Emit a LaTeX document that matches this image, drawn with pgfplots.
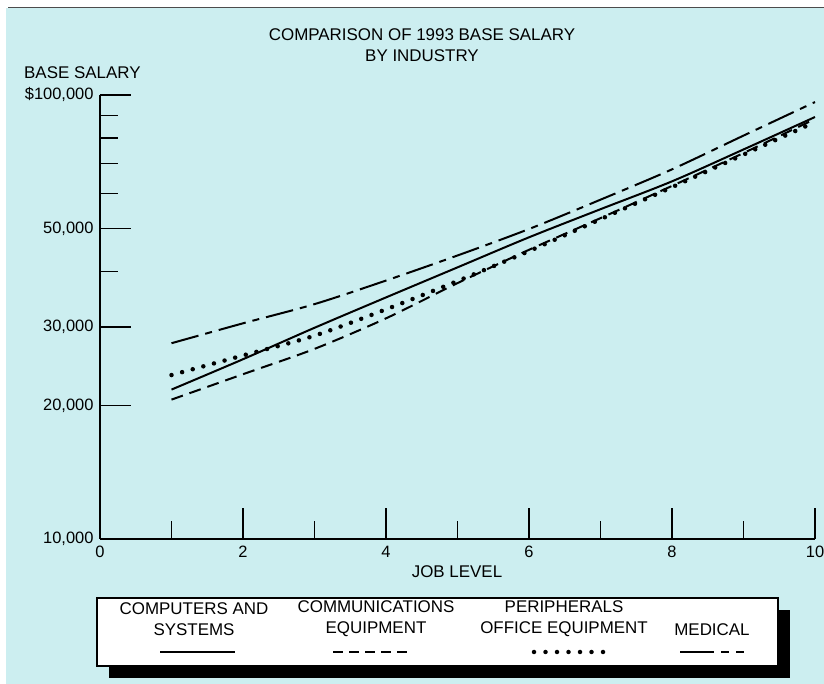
\documentclass[border=0pt]{standalone}
\usepackage{pgfplots}
\pgfplotsset{compat=1.18}
\usepackage{fontspec}
\setmainfont{Liberation Sans}
\definecolor{bgc}{RGB}{204,238,240}
\newcommand\fs{\fontsize{17}{21}\selectfont}
\begin{document}
\begin{tikzpicture}[x=1bp,y=1bp]
\fill[white] (0,0) rectangle (824,684);
\fill[bgc] (6,0) rectangle (824,676);
\draw[black!70, line width=1.5bp] (8,676.5) -- (824,676.5);
\begin{axis}[
  at={(100bp,145bp)}, anchor=south west,
  scale only axis, width=715bp, height=444bp,
  xmin=0, xmax=10, ymin=10000, ymax=100000,
  ymode=log,
  axis lines=left, axis line style={-, line width=1.4bp},
  xtick={0,2,4,6,8,10}, xticklabels={0,2,4,6,8,10},
  minor xtick={1,3,5,7,9},
  ytick={10000,20000,30000,50000,100000},
  yticklabels={{10,000},{20,000},{30,000},{50,000},{\$100,000}},
  minor ytick={40000,60000,70000,80000,90000},
  tick align=inside,
  major tick length=31bp, minor tick length=18bp,
  every tick/.style={black, line width=1.4bp},
  tick label style={font=\fontsize{16.5}{19}\selectfont},
  xticklabel style={yshift=-4bp},
  yticklabel style={xshift=-3bp},
  clip=false,
]
% Computers and systems
\addplot[black, line width=2bp, smooth] coordinates {(1,21700)(2,25400)(3,29900)(4,35000)(5,40900)(6,47800)(7,55300)(8,63900)(9,75400)(10,89200)};
% Communications equipment
\addplot[black, line width=2bp, smooth, dash pattern=on 12bp off 7bp] coordinates {(1,20600)(2,23500)(3,26800)(4,31400)(5,37700)(6,44800)(7,52800)(8,62400)(9,74000)(10,88300)};
% Peripherals office equipment
\addplot[black, line width=4.5bp, smooth, line cap=round, dash pattern=on 0bp off 11bp] coordinates {(1,23400)(2,25900)(3,28700)(4,32900)(5,38100)(6,44500)(7,52500)(8,62000)(9,73400)(10,86900)};
% Medical
\addplot[black, line width=2bp, smooth, dash pattern=on 28bp off 7bp on 7bp off 7bp] coordinates {(1,27600)(2,30600)(3,33800)(4,38200)(5,43500)(6,49900)(7,58100)(8,68000)(9,81000)(10,96400)};
\end{axis}
\node[font=\fs, align=center] at (422,639) {COMPARISON OF 1993 BASE SALARY\\BY INDUSTRY};
\node[font=\fs, anchor=west, inner sep=0pt] at (24,611) {BASE SALARY};
\node[font=\fs] at (457,112) {JOB LEVEL};
% legend box
\fill[black] (109,6) rectangle (790,74);
\filldraw[fill=white, draw=black, line width=1.3bp] (97,18) rectangle (778,86);
\node[font=\fs, align=center] at (194,65) {COMPUTERS AND\\SYSTEMS};
\node[font=\fs, align=center] at (376,65) {COMMUNICATIONS\\EQUIPMENT};
\node[font=\fs, align=center] at (564,65) {PERIPHERALS\\OFFICE EQUIPMENT};
\node[font=\fs] at (712,54) {MEDICAL};
\draw[line width=2bp] (160,32)--(235,32);
\draw[line width=2bp, dash pattern=on 10bp off 6bp] (333,32)--(410,32);
\draw[line width=4.5bp, line cap=round, dash pattern=on 0bp off 11.5bp] (534,32)--(605,32);
\draw[line width=2bp, dash pattern=on 34bp off 7bp on 8bp off 7bp on 8bp off 20bp] (680,32)--(750,32);
\pgfresetboundingbox
\path (0,0) rectangle (824,684);
\end{tikzpicture}
\end{document}
